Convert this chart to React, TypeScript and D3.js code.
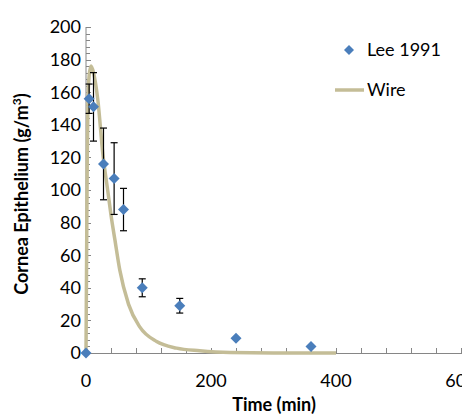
import React from "react";
import * as d3 from "d3";

const leeTime = [0, 5, 12, 28, 45, 60, 90, 150, 240, 360];
const leeValue = [0, 156, 151, 116, 107, 88, 40, 29, 9, 4];
const leeError = [0, 9, 21, 22, 22, 13, 5.5, 4.5, 0, 0];

const wireTime = [0, 1, 2, 3, 5, 8, 12, 19, 27, 35, 41, 46, 54, 68, 86, 113, 145, 182, 230, 300, 400];
const wireValue = [0, 60, 120, 152, 170, 176, 172, 155, 122, 99, 82, 70, 51, 30, 16, 7, 3, 1.4, 0.3, 0, 0];

const xTicks = [0, 200, 400, 600];
const yTicks = [0, 20, 40, 60, 80, 100, 120, 140, 160, 180, 200];

const W = 462;
const H = 420;
const FONT = "Lato, 'Open Sans', sans-serif";

export default function App() {
  const x = d3.scaleLinear().domain([0, 600]).range([86, 461]);
  const y = d3.scaleLinear().domain([0, 200]).range([353, 27]);

  const wire = wireTime.map((t, i) => [t, wireValue[i]] as [number, number]);
  const line = d3
    .line<[number, number]>()
    .x((d) => x(d[0]))
    .y((d) => y(d[1]))
    .curve(d3.curveMonotoneX);

  const xMinor = d3.range(40, 601, 40);
  const yMinor = d3.range(0, 201, 4);
  const axisColor = "#868686";
  const diamond = (cx: number, cy: number, r: number) =>
    `M${cx},${cy - r}L${cx + r},${cy}L${cx},${cy + r}L${cx - r},${cy}Z`;

  return (
    <svg
      width={W}
      height={H}
      style={{ position: "absolute", left: 0, top: 0, background: "#fff" }}
      fontFamily={FONT}
    >
      {/* Y axis */}
      <line x1={x(0)} x2={x(0)} y1={y(200)} y2={y(0)} stroke={axisColor} strokeWidth={1} />
      {yMinor.map((v) => (
        <line
          key={"ym" + v}
          x1={x(0)}
          x2={x(0) + (v % 20 === 0 ? 5 : 4)}
          y1={Math.round(y(v)) + 0.5}
          y2={Math.round(y(v)) + 0.5}
          stroke={axisColor}
          strokeWidth={1}
        />
      ))}
      {yTicks.map((v) => (
        <text
          key={"yt" + v}
          x={81}
          y={y(v)}
          dy="0.36em"
          textAnchor="end"
          fontSize={18}
          fill="#000"
        >
          {v}
        </text>
      ))}
      {/* X axis */}
      <line x1={x(0)} x2={W} y1={y(0) + 0.5} y2={y(0) + 0.5} stroke={axisColor} strokeWidth={1} />
      {xMinor.map((v) => (
        <line
          key={"xm" + v}
          x1={Math.round(x(v)) + 0.5}
          x2={Math.round(x(v)) + 0.5}
          y1={y(0)}
          y2={y(0) - 5}
          stroke={axisColor}
          strokeWidth={1}
        />
      ))}
      {xTicks.map((v) => (
        <text key={"xt" + v} x={x(v)} y={387} textAnchor="middle" fontSize={18} fill="#000">
          {v}
        </text>
      ))}
      {/* Titles */}
      <text x={274} y={411} textAnchor="middle" fontSize={18} fontWeight="bold" fill="#000">
        Time (min)
      </text>
      <text
        transform={`translate(28,194) rotate(-90)`}
        textAnchor="middle"
        fontSize={18}
        fontWeight="bold"
        fill="#000"
      >
        Cornea Epithelium (g/m
        <tspan dy="-7" fontSize={12}>3</tspan>
        <tspan dy="7">)</tspan>
      </text>
      {/* Wire curve */}
      <path d={line(wire) || ""} fill="none" stroke="#C4BD97" strokeWidth={3.5} />
      {/* Error bars */}
      {leeTime.map((t, i) =>
        leeError[i] > 0 ? (
          <g key={"e" + i} stroke="#000" strokeWidth={1.2}>
            <line x1={x(t)} x2={x(t)} y1={y(leeValue[i] + leeError[i])} y2={y(leeValue[i] - leeError[i])} />
            <line x1={x(t) - 3.5} x2={x(t) + 3.5} y1={y(leeValue[i] + leeError[i])} y2={y(leeValue[i] + leeError[i])} />
            <line x1={x(t) - 3.5} x2={x(t) + 3.5} y1={y(leeValue[i] - leeError[i])} y2={y(leeValue[i] - leeError[i])} />
          </g>
        ) : null
      )}
      {/* Lee points */}
      {leeTime.map((t, i) => (
        <path key={"p" + i} d={diamond(x(t), y(leeValue[i]), 5.5)} fill="#4A7EBB" />
      ))}
      {/* Legend */}
      <path d={diamond(349, 50, 5)} fill="#4A7EBB" />
      <text x={367} y={50} dy="0.36em" fontSize={18} fill="#000">
        Lee 1991
      </text>
      <line x1={335} x2={364} y1={90} y2={90} stroke="#C4BD97" strokeWidth={3.5} />
      <text x={367} y={90} dy="0.36em" fontSize={18} fill="#000">
        Wire
      </text>
    </svg>
  );
}
